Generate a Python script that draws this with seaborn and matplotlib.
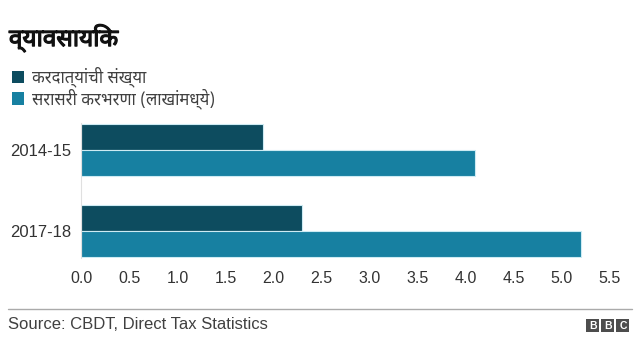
import matplotlib
matplotlib.use("Agg")
import matplotlib.pyplot as plt
import matplotlib.patheffects as pe
import seaborn as sns
import pandas as pd
from matplotlib.patches import Patch, Rectangle

# data
years = ["2014-15", "2017-18"]
series_names = ["करदात्यांची संख्या", "सरासरी करभरणा (लाखांमध्ये)"]
taxpayers = [1.89, 2.30]
avg_tax = [4.10, 5.20]
x_ticks = [0.0, 0.5, 1.0, 1.5, 2.0, 2.5, 3.0, 3.5, 4.0, 4.5, 5.0, 5.5]

colors = ["#0d4c5f", "#1780a1"]

df = pd.DataFrame({
    "year": years * 2,
    "series": [series_names[0]] * len(years) + [series_names[1]] * len(years),
    "value": taxpayers + avg_tax,
})

sns.set_style("white")
plt.rcParams["font.family"] = ["Noto Sans Devanagari", "Noto Sans", "Liberation Sans", "DejaVu Sans"]

fig = plt.figure(figsize=(6.4, 3.6), dpi=100)
ax = fig.add_axes([0.127, 0.283, 0.826, 0.375])

sns.barplot(data=df, y="year", x="value", hue="series", palette=colors,
            saturation=1, orient="h", width=0.64, gap=0,
            edgecolor="#cdebf3", linewidth=0.8, legend=False, ax=ax)

ax.set_xlim(0, 5.5)
ax.set_ylim(1.33, -0.33)
ax.set_xticks(x_ticks)
ax.set_xticklabels([f"{t:.1f}" for t in x_ticks], family="Liberation Sans")
ax.set_yticklabels(years, family="Liberation Sans")
ax.tick_params(axis="x", labelsize=11.5, labelcolor="#333333", length=0, pad=9)
ax.tick_params(axis="y", labelsize=12, labelcolor="#333333", length=0, pad=7.5)
ax.set_xlabel("")
ax.set_ylabel("")
for side in ["top", "right", "bottom"]:
    ax.spines[side].set_visible(False)
ax.spines["left"].set_color("#e0e0e0")

# title (faux bold via stroke)
fig.text(0.014, 0.872, "व्यावसायिक", fontsize=17.5, fontweight="bold", color="#111111",
         path_effects=[pe.withStroke(linewidth=0.9, foreground="#111111")])

# legend
handles = [Patch(facecolor=c, edgecolor="none") for c in colors]
fig.legend(handles, series_names, loc="upper left", bbox_to_anchor=(0.0, 0.847),
           frameon=False, fontsize=12, handlelength=0.75, handleheight=0.75,
           handletextpad=0.45, labelspacing=0.05, labelcolor="#404040",
           borderaxespad=0.3)

# footer
fig.add_artist(plt.Line2D([0.013, 0.988], [0.142, 0.142], color="#aaaaaa", lw=1))
fig.text(0.013, 0.085, "Source: CBDT, Direct Tax Statistics", fontsize=12,
         color="#404040", family="Liberation Sans")
for i, letter in enumerate("BBC"):
    x0 = 0.916 + i * 0.0235
    fig.add_artist(Rectangle((x0, 0.078), 0.0205, 0.036, transform=fig.transFigure,
                             facecolor="#4d4d4d", edgecolor="none"))
    fig.text(x0 + 0.0103, 0.0955, letter, fontsize=7.5, fontweight="bold", color="white",
             family="Liberation Sans", ha="center", va="center")

fig.savefig("out.png", dpi=100)
